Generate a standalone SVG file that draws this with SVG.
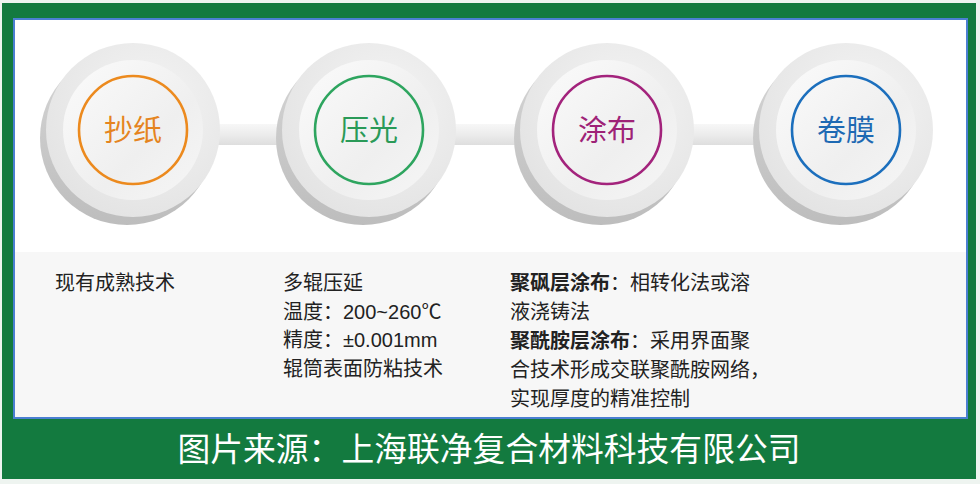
<svg xmlns="http://www.w3.org/2000/svg" width="980" height="484" viewBox="0 0 980 484">
<defs>
<radialGradient id="disc" cx="0.6" cy="0.35" r="0.75">
<stop offset="0" stop-color="#f4f4f4"/><stop offset="1" stop-color="#e2e2e2"/>
</radialGradient>
<linearGradient id="face" x1="0" y1="0" x2="1" y2="1">
<stop offset="0" stop-color="#fbfbfb"/><stop offset="0.6" stop-color="#efefef"/><stop offset="1" stop-color="#f6f6f6"/>
</linearGradient>
<linearGradient id="bar" x1="0" y1="0" x2="0" y2="1">
<stop offset="0" stop-color="#f7f7f7"/><stop offset="0.5" stop-color="#ececec"/><stop offset="1" stop-color="#dedede"/>
</linearGradient>
<linearGradient id="shadow" x1="0" y1="0" x2="0" y2="1">
<stop offset="0" stop-color="#d6d6d6"/><stop offset="1" stop-color="#bdbdbd"/>
</linearGradient>
</defs>
<style>
.shadow{fill:url(#shadow)}
.disc{fill:url(#disc)}
.face{fill:url(#face)}
.ring{fill:none;stroke-width:2.6}
.lbl{font-family:"Liberation Sans","Noto Sans CJK SC",sans-serif;font-size:29px;text-anchor:middle}
.txt{font-family:"Liberation Sans","Noto Sans CJK SC",sans-serif;font-size:20px;fill:#222}
.b{font-weight:bold}
.foot{font-family:"Liberation Sans","Noto Sans CJK SC",sans-serif;font-size:32.8px;fill:#ffffff}
</style>
<rect x="0" y="0" width="980" height="484" fill="#eef4f0"/>
<rect x="2" y="3" width="974" height="476" fill="#137a3f"/>
<rect x="14" y="19" width="953" height="399" fill="#ffffff" stroke="#4b7fd2" stroke-width="2"/>
<rect x="15" y="252" width="951" height="165" fill="#f7f7f7"/>
<g id="connectors">
<rect x="200" y="124" width="200" height="21" fill="url(#bar)"/>
<rect x="440" y="124" width="200" height="21" fill="url(#bar)"/>
<rect x="680" y="124" width="200" height="21" fill="url(#bar)"/>
</g>
<g id="node-chaozhi">
<circle cx="127" cy="138" r="87" class="shadow"/>
<circle cx="133" cy="130" r="87" class="disc"/>
<circle cx="133" cy="130" r="70" class="face"/>
<circle cx="133" cy="130" r="54" class="ring" stroke="#ec8a1e"/>
<text x="133" y="141" class="lbl" fill="#e58420">抄纸</text>
</g>
<g id="node-yaguang">
<circle cx="363" cy="138" r="87" class="shadow"/>
<circle cx="369" cy="130" r="87" class="disc"/>
<circle cx="369" cy="130" r="70" class="face"/>
<circle cx="369" cy="130" r="54" class="ring" stroke="#2ea55f"/>
<text x="369" y="141" class="lbl" fill="#2a9a58">压光</text>
</g>
<g id="node-tubu">
<circle cx="601" cy="138" r="87" class="shadow"/>
<circle cx="607" cy="130" r="87" class="disc"/>
<circle cx="607" cy="130" r="70" class="face"/>
<circle cx="607" cy="130" r="54" class="ring" stroke="#a3237c"/>
<text x="607" y="141" class="lbl" fill="#9e2277">涂布</text>
</g>
<g id="node-juanmo">
<circle cx="840" cy="138" r="87" class="shadow"/>
<circle cx="846" cy="130" r="87" class="disc"/>
<circle cx="846" cy="130" r="70" class="face"/>
<circle cx="846" cy="130" r="54" class="ring" stroke="#1c6fbd"/>
<text x="846" y="141" class="lbl" fill="#1d69b3">卷膜</text>
</g>
<g id="desc-1">
<text x="55" y="290" class="txt">现有成熟技术</text>
</g>
<g id="desc-2">
<text x="283" y="290" class="txt">多辊压延</text>
<text x="283" y="318.5" class="txt">温度：200~260℃</text>
<text x="283" y="347" class="txt">精度：±0.001mm</text>
<text x="283" y="375.5" class="txt">辊筒表面防粘技术</text>
</g>
<g id="desc-3">
<text x="510" y="290" class="txt"><tspan class="b">聚砜层涂布</tspan>：相转化法或溶</text>
<text x="510" y="319" class="txt">液浇铸法</text>
<text x="510" y="348" class="txt"><tspan class="b">聚酰胺层涂布</tspan>：采用界面聚</text>
<text x="510" y="377" class="txt">合技术形成交联聚酰胺网络，</text>
<text x="510" y="406" class="txt">实现厚度的精准控制</text>
</g>
<g id="footer">
<text x="489" y="461" class="foot" text-anchor="middle">图片来源：上海联净复合材料科技有限公司</text>
</g>
</svg>
